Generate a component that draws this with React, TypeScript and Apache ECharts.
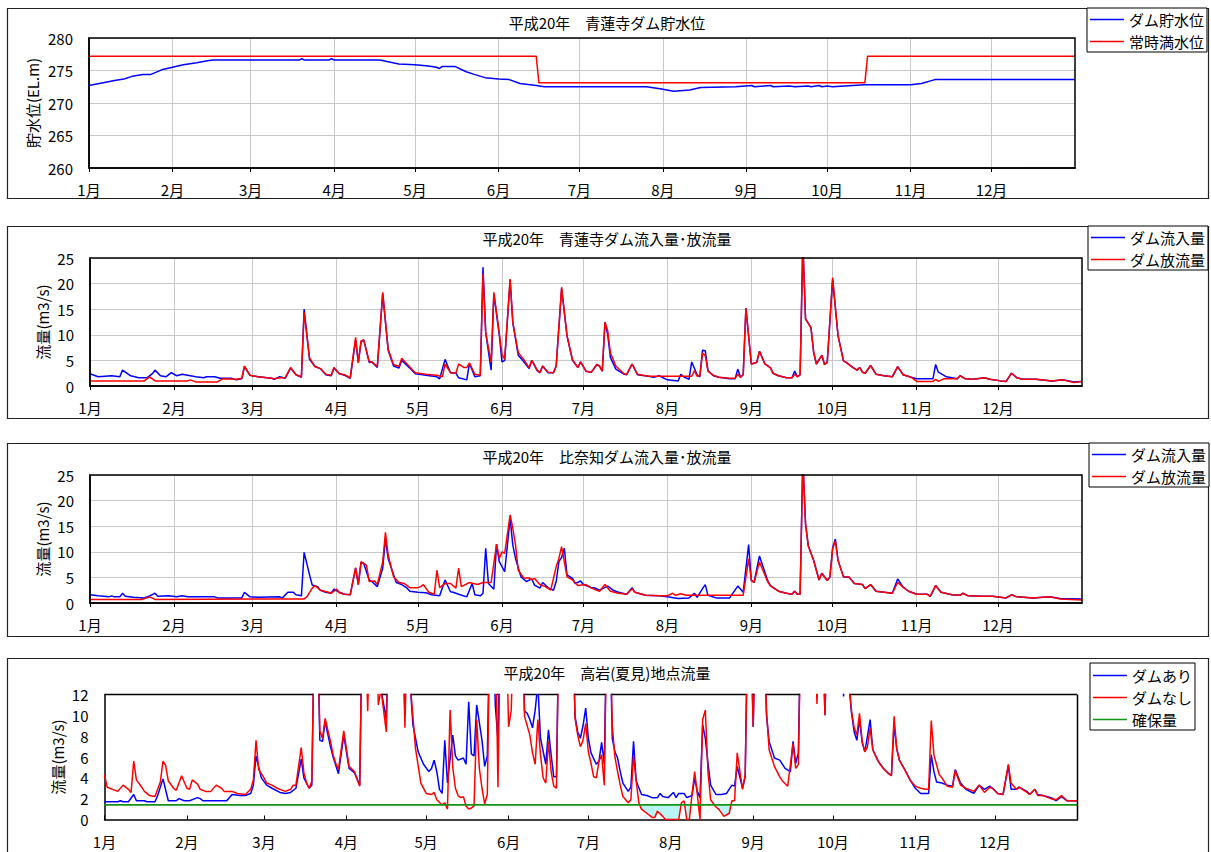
import React, { useEffect, useRef } from 'react';
import * as echarts from 'echarts';

type Pt = [number, number];

const FONT = "'Noto Sans CJK JP', 'Noto Sans', sans-serif";
const YEAR_DAYS = 366; // 平成20年 (2008) is a leap year

const monthLabels = ['1月', '2月', '3月', '4月', '5月', '6月', '7月', '8月', '9月', '10月', '11月', '12月'];
const monthStartDays = [0, 31, 60, 91, 121, 152, 182, 213, 244, 274, 305, 335];

const titles = [
  '平成20年　青蓮寺ダム貯水位',
  '平成20年　青蓮寺ダム流入量･放流量',
  '平成20年　比奈知ダム流入量･放流量',
  '平成20年　高岩(夏見)地点流量',
];

// ---- 青蓮寺ダム 貯水位 (EL.m), [day of year, value]
const shorenjiLevel: Pt[] = [
  [0, 272.7], [10, 273.5], [13, 273.7], [16, 274.1], [20, 274.4], [23, 274.4], [27, 275.1], [31, 275.5],
  [35, 275.9], [40, 276.2], [44, 276.5], [46, 276.6], [78, 276.6], [79, 276.8], [80, 276.6], [89, 276.6],
  [90, 276.8], [91, 276.6], [108, 276.6], [115, 276.0], [121, 275.9], [126, 275.7], [129, 275.5], [130, 275.3],
  [131, 275.6], [136, 275.6], [140, 274.8], [143, 274.4], [147, 273.9], [152, 273.7], [156, 273.6], [160, 273.0],
  [166, 272.7], [169, 272.5], [207, 272.5], [212, 272.2], [217, 271.8], [223, 272.0], [227, 272.4], [240, 272.5],
  [246, 272.7], [247, 272.5], [253, 272.7], [254, 272.5], [260, 272.6], [262, 272.5], [267, 272.6], [268, 272.5],
  [271, 272.7], [272, 272.5], [274, 272.6], [276, 272.5], [288, 272.8], [305, 272.8], [309, 273.0], [314, 273.6],
  [366, 273.6],
];
const normalFullLevel: Pt[] = [[0, 277.2], [166, 277.2], [167, 273.1], [288, 273.1], [289, 277.2], [366, 277.2]];

// ---- 青蓮寺ダム 流入量・放流量 (m3/s)
const shorenjiInflow: Pt[] = [
  [0, 2.4], [3, 1.8], [8, 2.0], [11, 1.8], [12, 3.1], [15, 2.0], [18, 1.6], [21, 1.6], [23, 2.4], [24, 3.1],
  [26, 2.0], [28, 1.8], [30, 2.6], [32, 2.0], [34, 2.3], [36, 2.1], [39, 1.8], [42, 1.6], [43, 1.8], [46, 1.8],
  [48, 1.5], [52, 1.5], [54, 1.2], [56, 1.4], [57, 3.8], [59, 2.1], [62, 1.8], [67, 1.5], [68, 1.3], [70, 1.8],
  [72, 1.5], [74, 3.5], [76, 2.2], [78, 1.7], [79, 15.0], [81, 5.2], [83, 3.8], [85, 3.4], [87, 2.2], [89, 2.0],
  [90, 3.5], [92, 2.4], [94, 2.1], [96, 1.5], [98, 9.0], [99, 4.6], [100, 8.6], [101, 9.0], [103, 4.6], [104, 4.7],
  [106, 3.6], [108, 18.0], [110, 7.0], [112, 3.9], [114, 3.5], [115, 5.0], [118, 3.5], [120, 2.4], [124, 2.1],
  [128, 1.8], [129, 1.4], [131, 5.2], [133, 2.6], [135, 2.5], [136, 1.6], [139, 1.2], [140, 4.4], [142, 1.8],
  [144, 2.0], [145, 23.2], [146, 10.4], [148, 3.1], [149, 18.0], [151, 10.0], [152, 4.7], [153, 5.0], [155, 20.7],
  [156, 12.4], [158, 6.0], [160, 4.8], [162, 3.4], [163, 5.0], [165, 3.0], [166, 2.6], [167, 3.9], [169, 2.6],
  [171, 2.6], [172, 3.9], [174, 19.0], [176, 9.8], [178, 5.0], [180, 3.6], [181, 4.7], [183, 2.9], [185, 2.7],
  [187, 4.2], [188, 3.9], [189, 2.9], [190, 12.4], [191, 10.1], [192, 5.6], [194, 3.3], [197, 2.3], [198, 2.2],
  [200, 4.3], [202, 2.2], [206, 1.9], [208, 1.7], [210, 2.0], [213, 1.2], [217, 1.0], [218, 2.3], [219, 1.8],
  [221, 1.3], [222, 4.7], [224, 2.2], [225, 1.8], [226, 7.0], [227, 6.9], [228, 3.0], [230, 2.0], [232, 1.7],
  [236, 1.4], [238, 1.4], [239, 3.3], [240, 1.7], [241, 2.2], [242, 15.2], [244, 4.3], [246, 4.6], [247, 6.8],
  [249, 4.3], [251, 3.6], [252, 2.5], [254, 2.0], [257, 1.6], [259, 1.6], [260, 2.9], [261, 1.8], [262, 2.2],
  [263, 28], [264, 13.1], [266, 11.4], [267, 6.6], [268, 4.3], [270, 6.0], [271, 4.2], [272, 4.6], [274, 20.8],
  [276, 9.8], [278, 4.9], [279, 4.6], [281, 3.8], [283, 3.1], [284, 3.6], [285, 2.7], [286, 2.5], [288, 4.0],
  [290, 2.3], [293, 2.0], [296, 1.8], [298, 3.8], [299, 3.0], [300, 2.2], [303, 1.7], [305, 1.4], [311, 1.4],
  [312, 4.2], [313, 2.7], [316, 1.8], [320, 1.4], [321, 2.0], [323, 1.4], [326, 1.3], [330, 1.6], [332, 1.3],
  [336, 1.0], [338, 0.9], [340, 2.5], [342, 1.6], [344, 1.3], [349, 1.3], [355, 1.0], [359, 1.2], [363, 0.8],
  [366, 0.9],
];
const shorenjiOutflow: Pt[] = [
  [0, 1.0], [20, 1.0], [22, 1.8], [24, 1.0], [36, 1.0], [37, 1.2], [39, 0.8], [47, 0.8], [49, 1.4], [54, 1.3],
  [56, 1.5], [57, 3.9], [59, 2.1], [62, 1.8], [67, 1.5], [68, 1.4], [70, 1.6], [72, 1.6], [74, 3.6], [76, 2.2],
  [78, 1.8], [79, 14.4], [81, 5.5], [83, 3.8], [85, 3.4], [87, 2.3], [89, 2.1], [90, 3.6], [92, 2.4], [94, 2.2],
  [96, 1.6], [98, 9.5], [99, 4.5], [100, 8.8], [101, 9.0], [103, 4.8], [104, 4.7], [106, 3.8], [108, 18.3],
  [110, 7.2], [112, 4.2], [114, 3.8], [115, 5.4], [118, 3.7], [120, 2.6], [124, 2.3], [128, 2.1], [130, 1.8],
  [131, 4.3], [133, 2.6], [135, 2.5], [136, 4.3], [138, 3.6], [139, 3.6], [140, 4.5], [142, 2.3], [144, 2.1],
  [145, 21.9], [146, 10.4], [148, 4.6], [149, 18.3], [151, 10.4], [152, 6.2], [153, 5.2], [155, 20.9], [156, 12.4],
  [158, 6.5], [160, 5.2], [162, 3.6], [163, 5.0], [165, 3.1], [166, 2.6], [167, 3.9], [169, 2.7], [171, 2.6],
  [172, 3.9], [174, 19.3], [176, 9.8], [178, 5.2], [180, 3.6], [181, 4.7], [183, 2.9], [185, 2.7], [187, 4.2],
  [188, 3.9], [189, 2.9], [190, 12.5], [191, 10.8], [192, 6.5], [194, 3.9], [197, 2.4], [198, 2.3], [200, 4.3],
  [202, 2.3], [206, 1.9], [222, 1.9], [223, 3.0], [224, 1.9], [225, 2.0], [226, 6.4], [227, 6.0], [228, 2.9],
  [230, 2.1], [232, 1.7], [236, 1.5], [238, 1.5], [239, 2.3], [240, 1.7], [241, 2.2], [242, 15.2], [244, 4.3],
  [246, 4.6], [247, 6.8], [249, 4.3], [251, 3.6], [252, 2.5], [254, 2.0], [257, 1.6], [259, 1.6], [260, 2.3],
  [261, 1.8], [262, 2.2], [263, 28], [264, 13.1], [266, 11.4], [267, 6.6], [268, 4.3], [270, 6.0], [271, 4.2],
  [272, 4.6], [274, 21.2], [276, 9.8], [278, 4.9], [279, 4.6], [281, 3.8], [283, 3.1], [284, 3.6], [285, 2.7],
  [286, 2.5], [288, 4.0], [290, 2.3], [293, 2.0], [296, 1.8], [298, 3.8], [299, 3.0], [300, 2.2], [303, 1.7],
  [305, 0.9], [311, 0.9], [312, 1.3], [313, 0.9], [315, 1.4], [320, 1.4], [321, 2.0], [323, 1.4], [326, 1.3],
  [330, 1.6], [332, 1.3], [336, 1.0], [338, 0.9], [340, 2.5], [342, 1.6], [344, 1.3], [349, 1.3], [355, 1.0],
  [359, 1.2], [363, 0.7], [366, 0.9],
];

// ---- 比奈知ダム 流入量・放流量 (m3/s)
const hinachiInflow: Pt[] = [
  [0, 1.6], [3, 1.4], [7, 1.2], [8, 1.4], [9, 1.2], [11, 1.2], [12, 1.9], [13, 1.3], [16, 1.1], [20, 1.0],
  [22, 1.4], [24, 1.9], [25, 1.3], [29, 1.4], [32, 1.2], [34, 1.4], [36, 1.2], [46, 1.2], [47, 1.0], [56, 1.0],
  [57, 2.1], [59, 1.2], [62, 1.1], [70, 1.2], [71, 1.0], [73, 2.1], [75, 2.1], [76, 1.6], [78, 1.4], [79, 9.9],
  [81, 5.5], [82, 3.5], [84, 3.2], [85, 2.5], [87, 2.1], [89, 1.9], [90, 2.7], [92, 2.1], [94, 1.7], [96, 1.6],
  [98, 6.8], [99, 3.6], [100, 7.9], [101, 7.7], [103, 4.5], [104, 4.2], [106, 3.2], [108, 6.8], [109, 12.5],
  [110, 8.7], [112, 5.5], [113, 4.0], [115, 3.6], [117, 2.9], [118, 2.3], [121, 2.1], [124, 2.0], [126, 1.6],
  [129, 1.4], [131, 4.5], [133, 2.2], [134, 2.1], [136, 1.7], [139, 1.2], [141, 3.8], [142, 1.6], [144, 1.4],
  [145, 1.9], [146, 10.7], [147, 3.8], [149, 2.7], [150, 11.5], [151, 8.1], [153, 6.1], [155, 16.5], [156, 11.3],
  [157, 8.7], [159, 5.1], [161, 4.2], [163, 4.7], [164, 3.5], [166, 2.9], [167, 4.0], [169, 3.0], [171, 2.5],
  [172, 4.2], [173, 8.1], [174, 8.9], [175, 10.7], [176, 5.5], [178, 4.8], [179, 3.8], [181, 4.3], [182, 3.6],
  [185, 3.0], [186, 3.0], [188, 2.5], [191, 3.3], [193, 2.5], [195, 2.1], [198, 1.7], [200, 3.0], [201, 2.1],
  [205, 1.5], [210, 1.4], [213, 1.2], [217, 0.9], [221, 1.0], [223, 1.9], [224, 1.1], [226, 2.8], [227, 3.6],
  [228, 1.5], [231, 1.0], [236, 1.0], [239, 3.3], [241, 2.1], [243, 11.4], [244, 4.4], [245, 4.0], [247, 9.2],
  [250, 4.4], [251, 3.4], [254, 2.3], [257, 1.9], [259, 1.7], [260, 2.3], [261, 1.7], [262, 1.7], [263, 28],
  [264, 15.5], [265, 11.2], [267, 8.3], [268, 6.4], [269, 4.5], [270, 5.8], [272, 4.4], [273, 5.1], [274, 10.8],
  [275, 12.5], [276, 8.3], [278, 5.1], [280, 5.1], [282, 3.8], [285, 3.6], [286, 2.8], [288, 3.6], [290, 2.3],
  [293, 2.1], [296, 1.9], [298, 4.7], [300, 3.1], [302, 2.3], [305, 1.7], [309, 1.7], [310, 1.3], [312, 3.4],
  [314, 2.1], [318, 1.6], [321, 1.5], [322, 1.9], [324, 1.4], [329, 1.3], [333, 1.3], [338, 1.0], [340, 1.6],
  [342, 1.2], [348, 1.0], [354, 1.2], [358, 0.9], [366, 0.8],
];
const hinachiOutflow: Pt[] = [
  [0, 0.7], [19, 0.7], [21, 1.0], [22, 1.2], [24, 0.7], [79, 0.8], [80, 1.2], [82, 2.9], [83, 3.4], [85, 2.5],
  [88, 2.1], [89, 1.9], [91, 2.7], [92, 2.0], [94, 1.7], [96, 1.6], [98, 6.9], [99, 3.6], [100, 8.1], [102, 7.4],
  [103, 4.2], [105, 4.3], [106, 3.6], [108, 8.0], [109, 13.8], [110, 9.4], [112, 5.1], [114, 4.0], [116, 3.8],
  [118, 3.0], [121, 3.0], [122, 3.2], [123, 3.6], [125, 2.1], [127, 1.7], [128, 6.4], [129, 3.0], [131, 3.8],
  [133, 3.8], [135, 2.9], [136, 6.8], [137, 3.2], [140, 4.0], [143, 3.6], [145, 4.0], [148, 4.0], [150, 11.5],
  [151, 8.7], [152, 10.0], [153, 9.7], [155, 17.2], [156, 14.6], [157, 11.3], [158, 6.4], [160, 4.9], [162, 4.9],
  [163, 4.5], [164, 4.8], [166, 3.6], [168, 3.2], [170, 2.5], [172, 7.1], [173, 8.7], [174, 11.0], [176, 5.1],
  [178, 4.5], [180, 3.4], [183, 3.6], [185, 2.9], [188, 2.3], [190, 3.6], [192, 2.3], [195, 1.9], [198, 1.7],
  [200, 2.8], [201, 2.1], [205, 1.5], [210, 1.4], [213, 1.4], [215, 1.9], [216, 1.5], [218, 1.8], [220, 1.5],
  [241, 1.5], [243, 8.6], [244, 4.4], [245, 4.0], [247, 8.0], [250, 4.2], [251, 3.4], [254, 2.3], [257, 1.9],
  [259, 1.7], [260, 2.3], [261, 1.7], [262, 1.7], [263, 28], [264, 15.5], [265, 11.2], [267, 8.3], [268, 6.4],
  [269, 4.5], [270, 5.8], [272, 4.4], [273, 5.1], [274, 10.6], [275, 12.1], [276, 8.3], [278, 5.1], [280, 5.1],
  [282, 3.8], [285, 3.6], [286, 2.8], [288, 3.6], [290, 2.3], [293, 2.1], [296, 1.9], [298, 4.0], [300, 3.1],
  [302, 2.3], [305, 1.7], [309, 1.7], [310, 1.3], [312, 3.4], [314, 2.1], [318, 1.6], [321, 1.5], [322, 1.9],
  [324, 1.4], [329, 1.3], [333, 1.3], [338, 1.0], [340, 1.6], [342, 1.2], [348, 1.0], [354, 1.2], [358, 0.8],
  [366, 0.6],
];

// ---- 高岩(夏見)地点流量 (m3/s); values above the axis top are flood flows beyond 12
const takaiwaWithDam: Pt[] = [
  [0, 1.7], [5, 1.7], [6, 1.8], [7, 1.7], [9, 1.7], [11, 2.4], [12, 1.8], [15, 1.8], [16, 1.7], [19, 1.7],
  [20, 2.3], [22, 3.9], [24, 1.8], [27, 1.8], [28, 2.0], [30, 1.8], [32, 1.8], [34, 2.0], [35, 2.1], [36, 2.0],
  [37, 1.8], [42, 1.8], [46, 1.8], [48, 2.4], [51, 2.3], [53, 2.3], [55, 2.5], [56, 3.3], [57, 6.1], [59, 4.0],
  [61, 3.3], [63, 3.0], [66, 2.6], [68, 2.5], [70, 2.6], [72, 3.0], [74, 5.8], [75, 4.0], [77, 3.0], [78, 3.3],
  [79, 20], [80, 20], [81, 7.6], [82, 7.5], [83, 9.4], [85, 7.0], [86, 6.0], [88, 4.4], [90, 8.1], [92, 4.9],
  [94, 4.5], [96, 3.3], [97, 20], [103, 20], [104, 12.5], [106, 9.6], [107, 20], [112, 20], [113, 10.0], [114, 20],
  [115, 13], [116, 9.1], [118, 6.5], [120, 5.3], [122, 4.6], [123, 4.9], [124, 5.7], [125, 4.6], [126, 2.9],
  [127, 2.5], [128, 7.6], [129, 3.5], [131, 8.1], [132, 6.1], [133, 5.7], [135, 5.9], [136, 5.3], [137, 11.3],
  [138, 6.3], [139, 6.1], [140, 11.0], [142, 7.6], [143, 5.1], [144, 6.1], [145, 20], [146, 20], [147, 11.0],
  [148, 7.6], [149, 20], [157, 20], [158, 10.4], [159, 10.2], [160, 9.6], [161, 8.8], [162, 10.5], [163, 13],
  [164, 7.8], [166, 5.3], [167, 8.6], [168, 6.2], [169, 4.1], [170, 4.1], [171, 20], [176, 20], [177, 9.9],
  [178, 8.4], [179, 7.8], [180, 9.0], [181, 10.7], [182, 7.8], [183, 6.4], [185, 5.3], [186, 5.6], [187, 7.4],
  [188, 5.3], [189, 20], [190, 20], [191, 7.8], [192, 6.5], [193, 5.9], [194, 4.6], [195, 3.5], [197, 2.7],
  [198, 3.1], [199, 7.5], [200, 3.7], [202, 2.4], [204, 2.3], [206, 2.1], [208, 2.1], [209, 2.5], [210, 2.2],
  [212, 2.1], [214, 2.6], [215, 2.1], [216, 2.5], [218, 2.5], [219, 2.1], [221, 2.3], [222, 4.0], [223, 2.7],
  [224, 2.1], [225, 9.1], [226, 7.8], [227, 5.4], [228, 3.3], [230, 2.4], [232, 2.4], [234, 2.5], [236, 3.3],
  [237, 3.2], [238, 5.1], [240, 3.0], [241, 4.1], [242, 20], [243, 20], [244, 8.9], [245, 20], [248, 20],
  [249, 10.0], [250, 7.5], [252, 5.9], [254, 5.7], [256, 4.9], [258, 4.6], [259, 7.5], [260, 5.4], [261, 6.4],
  [262, 20], [270, 20], [271, 10.0], [272, 20], [277, 20], [278, 11.8], [279, 20], [280, 13], [281, 10.2],
  [282, 8.4], [283, 7.6], [284, 9.6], [285, 7.4], [286, 6.5], [287, 8.0], [288, 9.6], [289, 6.7], [291, 5.6],
  [293, 4.9], [295, 4.4], [296, 4.2], [297, 9.1], [298, 6.8], [299, 5.7], [301, 4.8], [303, 3.8], [305, 3.0],
  [307, 2.5], [310, 2.5], [311, 6.2], [312, 4.6], [313, 3.6], [315, 3.5], [317, 3.3], [319, 3.2], [320, 4.8],
  [322, 3.5], [324, 2.9], [327, 2.5], [328, 2.9], [329, 3.3], [331, 2.9], [333, 3.2], [334, 3.0], [336, 2.5],
  [338, 2.4], [340, 5.2], [341, 2.9], [343, 2.9], [344, 3.1], [347, 2.7], [348, 2.4], [350, 2.9], [351, 2.4],
  [353, 2.3], [356, 2.1], [358, 1.8], [360, 2.2], [362, 1.8], [366, 1.8],
];
const takaiwaWithoutDam: Pt[] = [
  [0, 4.3], [1, 3.1], [4, 2.8], [5, 2.7], [7, 3.3], [9, 2.9], [10, 2.6], [11, 5.6], [12, 3.8], [14, 3.1],
  [15, 2.7], [17, 2.3], [19, 2.2], [21, 3.6], [22, 5.6], [23, 5.2], [24, 3.7], [26, 3.0], [27, 2.8], [29, 4.2],
  [31, 3.0], [32, 2.9], [33, 3.8], [35, 3.4], [36, 2.9], [38, 2.7], [40, 2.7], [42, 3.3], [44, 3.0], [45, 2.7],
  [48, 2.7], [50, 2.5], [53, 2.4], [55, 2.9], [56, 3.8], [57, 7.6], [58, 4.8], [60, 4.0], [61, 3.5], [63, 3.3],
  [65, 3.0], [67, 2.8], [68, 2.7], [70, 2.9], [71, 3.3], [72, 3.3], [74, 6.9], [75, 4.5], [76, 3.5], [77, 3.0],
  [78, 3.7], [79, 20], [80, 20], [81, 8.5], [82, 7.8], [83, 9.7], [85, 7.5], [86, 6.2], [87, 5.4], [88, 4.8],
  [90, 8.5], [92, 5.1], [94, 4.6], [96, 3.2], [97, 20], [98, 20], [99, 10.4], [100, 20], [102, 20], [103, 11.0],
  [104, 12.5], [106, 8.4], [107, 20], [112, 20], [113, 8.8], [114, 20], [115, 13], [117, 6.8], [119, 3.5],
  [121, 2.5], [123, 2.4], [124, 2.6], [125, 1.9], [127, 1.4], [128, 1.6], [129, 1.0], [130, 10.5], [131, 5.0],
  [132, 3.0], [133, 2.3], [134, 2.1], [135, 2.2], [136, 1.3], [137, 1.0], [138, 1.1], [139, 1.3], [140, 9.6],
  [141, 4.9], [142, 3.0], [143, 1.5], [144, 2.4], [145, 20], [147, 20], [148, 3.1], [149, 20], [151, 20],
  [152, 8.9], [153, 10.5], [154, 20], [157, 20], [158, 9.9], [160, 8.1], [161, 6.4], [162, 5.3], [163, 9.6],
  [164, 6.2], [165, 4.0], [166, 3.5], [167, 7.5], [168, 4.6], [169, 3.2], [170, 3.0], [171, 20], [176, 20],
  [177, 9.7], [178, 8.1], [179, 7.0], [180, 7.6], [181, 9.2], [182, 6.5], [183, 5.4], [184, 4.1], [185, 4.0],
  [186, 5.6], [187, 6.2], [188, 3.3], [189, 20], [190, 20], [191, 9.0], [192, 6.0], [193, 4.6], [194, 3.3],
  [195, 2.2], [197, 1.6], [198, 1.9], [199, 6.1], [200, 3.7], [201, 1.6], [202, 1.0], [204, 0.6], [206, 0.2],
  [207, 0.2], [208, 0.8], [210, 0.3], [211, 0], [216, 0], [217, 1.6], [218, 1.8], [219, 0], [220, 0], [221, 2.4],
  [222, 4.6], [223, 2.4], [224, 0], [225, 9.6], [226, 10.5], [227, 4.6], [228, 1.9], [230, 1.2], [231, 1.0],
  [233, 0.3], [235, 0.6], [236, 1.8], [237, 1.8], [238, 6.4], [240, 2.9], [241, 4.3], [242, 20], [243, 20],
  [244, 8.9], [245, 20], [248, 20], [249, 10.5], [250, 6.7], [252, 5.1], [254, 4.1], [255, 3.7], [257, 3.2],
  [259, 7.3], [260, 4.9], [261, 5.3], [262, 20], [267, 20], [268, 11.1], [269, 20], [270, 20], [271, 10.0],
  [272, 20], [279, 20], [280, 13.5], [281, 10.4], [282, 8.8], [283, 8.1], [284, 10.2], [285, 7.5], [286, 6.5],
  [287, 7.0], [288, 8.8], [289, 6.7], [291, 5.6], [293, 4.9], [295, 4.4], [296, 4.2], [297, 9.9], [298, 6.8],
  [299, 5.7], [301, 4.8], [303, 3.8], [305, 3.2], [307, 3.0], [309, 2.9], [310, 2.9], [311, 9.5], [312, 6.2],
  [314, 4.3], [315, 4.0], [317, 3.2], [319, 3.1], [320, 4.7], [322, 3.3], [324, 3.0], [327, 2.7], [329, 3.3],
  [331, 2.6], [333, 3.1], [334, 3.0], [336, 2.5], [338, 2.4], [340, 5.3], [341, 3.5], [343, 2.9], [344, 3.1],
  [347, 2.6], [348, 2.4], [350, 2.9], [351, 2.3], [353, 2.3], [356, 2.0], [358, 1.9], [360, 2.3], [362, 1.8],
  [366, 1.8],
];
const securedFlow: Pt[] = [[0, 1.4], [366, 1.4]];
const SECURED = 1.4;
const shortfallWindow = [199, 238]; // summer period shaded where flow without dam falls short

const BLUE = '#0000ff';
const RED = '#ff0000';
const GREEN = '#139313';
const CYAN = '#b9f5f5';

// Legend key: a thin horizontal bar inside an invisible 34x14 box
const LEGEND_LINE = 'path://M0,0h0.01v0.01h-0.01z M0,14h0.01v0.01h-0.01z M0,6.25h34v1.5h-34z';

// Plot rectangles of the four panels (pixels)
const plots = [
  { left: 89, top: 38, width: 986, height: 130 },
  { left: 90, top: 258, width: 992, height: 128 },
  { left: 90, top: 475, width: 992, height: 128 },
  { left: 104.5, top: 694.5, width: 973, height: 125 },
];

function valueAt(series: Pt[], d: number): number {
  for (let i = 0; i < series.length - 1; i++) {
    const [x0, y0] = series[i];
    const [x1, y1] = series[i + 1];
    if (d >= x0 && d <= x1) return x1 === x0 ? y1 : y0 + ((y1 - y0) * (d - x0)) / (x1 - x0);
  }
  return series[series.length - 1][1];
}

// Lower edge of the shaded shortfall band: flow clipped at the secured level
function shortfallBase(series: Pt[], from: number, to: number, level: number): Pt[] {
  const pts: Pt[] = [];
  for (let i = 0; i < series.length; i++) {
    const [x, y] = series[i];
    if (i > 0) {
      const [px, py] = series[i - 1];
      if ((py - level) * (y - level) < 0) {
        const cx = px + ((level - py) * (x - px)) / (y - py);
        if (cx >= from && cx <= to) pts.push([cx, level]);
      }
    }
    if (x >= from && x <= to) pts.push([x, Math.min(y, level)]);
  }
  return pts;
}

// Top edge of the 高岩 frame: shown only while both flows stay inside the axis
function topFrame(a: Pt[], b: Pt[], ceiling: number): (number | string)[][] {
  const out: (number | string)[][] = [];
  for (let d = 0; d <= YEAR_DAYS + 1e-9; d += 0.2) {
    const hi = Math.max(valueAt(a, d), valueAt(b, d));
    out.push([d, hi < ceiling ? ceiling : '-']);
  }
  return out;
}

function dayAxis(gridIndex: number, tickInside: boolean, grid: boolean) {
  return {
    type: 'value',
    gridIndex,
    min: 0,
    max: YEAR_DAYS,
    axisLine: { show: true, onZero: false, lineStyle: { color: '#000', width: 1.5 } },
    axisTick: {
      show: true,
      customValues: monthStartDays,
      inside: tickInside,
      length: 4,
      lineStyle: { color: '#000', width: 1 },
    },
    axisLabel: {
      customValues: monthStartDays,
      formatter: (v: number) => monthLabels[monthStartDays.indexOf(v)] ?? '',
      margin: 14,
      fontSize: 15,
      color: '#000',
      fontFamily: FONT,
    },
    splitLine: { show: grid, lineStyle: { color: '#c8c8c8', width: 1 } },
  };
}

function valueAxis(gridIndex: number, min: number, max: number, interval: number, grid: boolean) {
  return {
    type: 'value',
    gridIndex,
    min,
    max,
    interval,
    axisLine: { show: true, lineStyle: { color: '#000', width: 1.5 } },
    axisTick: { show: false },
    axisLabel: { margin: 16, fontSize: 15, color: '#000', fontFamily: FONT },
    splitLine: { show: grid, lineStyle: { color: '#c8c8c8', width: 1 } },
  };
}

function lineSeries(name: string, data: any[], color: string, axis: number, width = 1.5) {
  return {
    type: 'line',
    name,
    data,
    xAxisIndex: axis,
    yAxisIndex: axis,
    showSymbol: false,
    symbol: 'none',
    lineStyle: { color, width },
    itemStyle: { color },
    emphasis: { disabled: true },
  };
}

function legendBox(left: number, top: number, names: string[], padTop: number) {
  return {
    orient: 'vertical',
    left,
    top,
    data: names.map((n) => ({ name: n, icon: LEGEND_LINE })),
    selectedMode: false,
    itemWidth: 34,
    itemHeight: 14,
    itemGap: 7,
    padding: [padTop, 3, 3, 3],
    borderColor: '#000',
    borderWidth: 1,
    borderRadius: 0,
    backgroundColor: '#fff',
    textStyle: { fontSize: 15, color: '#000', fontFamily: FONT },
  };
}

export default function App() {
  const ref = useRef<HTMLDivElement>(null);

  useEffect(() => {
    document.body.style.margin = '0';
    if (!ref.current) return;
    const chart = echarts.init(ref.current, null, { renderer: 'svg' });

    const bandBase = shortfallBase(takaiwaWithoutDam, shortfallWindow[0], shortfallWindow[1], SECURED);
    const frameTop = topFrame(takaiwaWithDam, takaiwaWithoutDam, 12);

    const panelBoxes = [
      { y: 8.5, h: 190 },
      { y: 226.5, h: 192 },
      { y: 443.5, h: 193 },
      { y: 658.5, h: 200 },
    ];
    const titleCenters = [24, 240, 458, 674];
    const yNames = [
      { text: '貯水位(EL.m)', x: 32, y: 103 },
      { text: '流量(m3/s)', x: 42, y: 322 },
      { text: '流量(m3/s)', x: 42, y: 539 },
      { text: '流量(m3/s)', x: 57, y: 757 },
    ];

    const graphic: any[] = [];
    panelBoxes.forEach((b) => {
      graphic.push({
        type: 'rect',
        silent: true,
        z: 0,
        shape: { x: 7.5, y: b.y, width: 1201, height: b.h },
        style: { fill: 'none', stroke: '#222', lineWidth: 1.2 },
      });
    });
    plots.slice(0, 3).forEach((p) => {
      graphic.push({
        type: 'rect',
        silent: true,
        z: 50,
        shape: { x: p.left, y: p.top, width: p.width, height: p.height },
        style: { fill: 'none', stroke: '#000', lineWidth: 1.5 },
      });
    });
    const p4 = plots[3];
    graphic.push({
      type: 'line',
      silent: true,
      z: 50,
      shape: { x1: p4.left + p4.width, y1: p4.top, x2: p4.left + p4.width, y2: p4.top + p4.height },
      style: { stroke: '#000', lineWidth: 1.5 },
    });
    yNames.forEach((n) => {
      graphic.push({
        type: 'text',
        silent: true,
        x: n.x,
        y: n.y,
        rotation: Math.PI / 2,
        style: {
          text: n.text,
          fontSize: 15,
          fontFamily: FONT,
          fill: '#000',
          align: 'center',
          verticalAlign: 'middle',
        },
      });
    });

    const option: any = {
      animation: false,
      backgroundColor: '#fff',
      textStyle: { fontFamily: FONT },
      title: titles.map((t, i) => ({
        text: t,
        left: 607,
        top: titleCenters[i] - 9,
        textAlign: 'center',
        padding: 0,
        textStyle: { fontSize: 15, fontWeight: 'normal', color: '#000', fontFamily: FONT },
      })),
      legend: [
        legendBox(1087, 8, ['ダム貯水位', '常時満水位'], 4),
        legendBox(1088, 226, ['ダム流入量', 'ダム放流量'], 4),
        legendBox(1089, 443, ['ダム流入量', 'ダム放流量'], 4),
        legendBox(1090, 663, ['ダムあり', 'ダムなし', '確保量'], 5),
      ],
      grid: plots.map((p) => ({ ...p, containLabel: false })),
      xAxis: [dayAxis(0, false, true), dayAxis(1, false, true), dayAxis(2, false, true), dayAxis(3, true, false)],
      yAxis: [
        valueAxis(0, 260, 280, 5, true),
        valueAxis(1, 0, 25, 5, true),
        valueAxis(2, 0, 25, 5, true),
        valueAxis(3, 0, 12, 2, false),
      ],
      graphic,
      series: [
        lineSeries('ダム貯水位', shorenjiLevel, BLUE, 0),
        lineSeries('常時満水位', normalFullLevel, RED, 0),
        lineSeries('ダム流入量', shorenjiInflow, BLUE, 1),
        lineSeries('ダム放流量', shorenjiOutflow, RED, 1),
        lineSeries('ダム流入量', hinachiInflow, BLUE, 2),
        lineSeries('ダム放流量', hinachiOutflow, RED, 2),
        {
          // shaded band between the secured flow and the no-dam flow where it falls short
          type: 'custom',
          name: '不足量',
          xAxisIndex: 3,
          yAxisIndex: 3,
          silent: true,
          data: [[shortfallWindow[0], SECURED]],
          renderItem: (_params: any, api: any) => {
            if (bandBase.length < 2) return null;
            const lower = bandBase.map((p) => api.coord(p));
            const upper = [
              api.coord([bandBase[bandBase.length - 1][0], SECURED]),
              api.coord([bandBase[0][0], SECURED]),
            ];
            return {
              type: 'polygon',
              shape: { points: [...lower, ...upper] },
              style: { fill: CYAN, stroke: 'none' },
            };
          },
        },
        lineSeries('ダムあり', takaiwaWithDam, BLUE, 3),
        lineSeries('ダムなし', takaiwaWithoutDam, RED, 3),
        lineSeries('確保量', securedFlow, GREEN, 3, 1.8),
        {
          ...lineSeries('上端', frameTop, '#000', 3, 1.5),
          clip: false,
          connectNulls: false,
        },
      ],
    };

    chart.setOption(option);
    return () => chart.dispose();
  }, []);

  return <div ref={ref} style={{ width: 1211, height: 852 }} />;
}
